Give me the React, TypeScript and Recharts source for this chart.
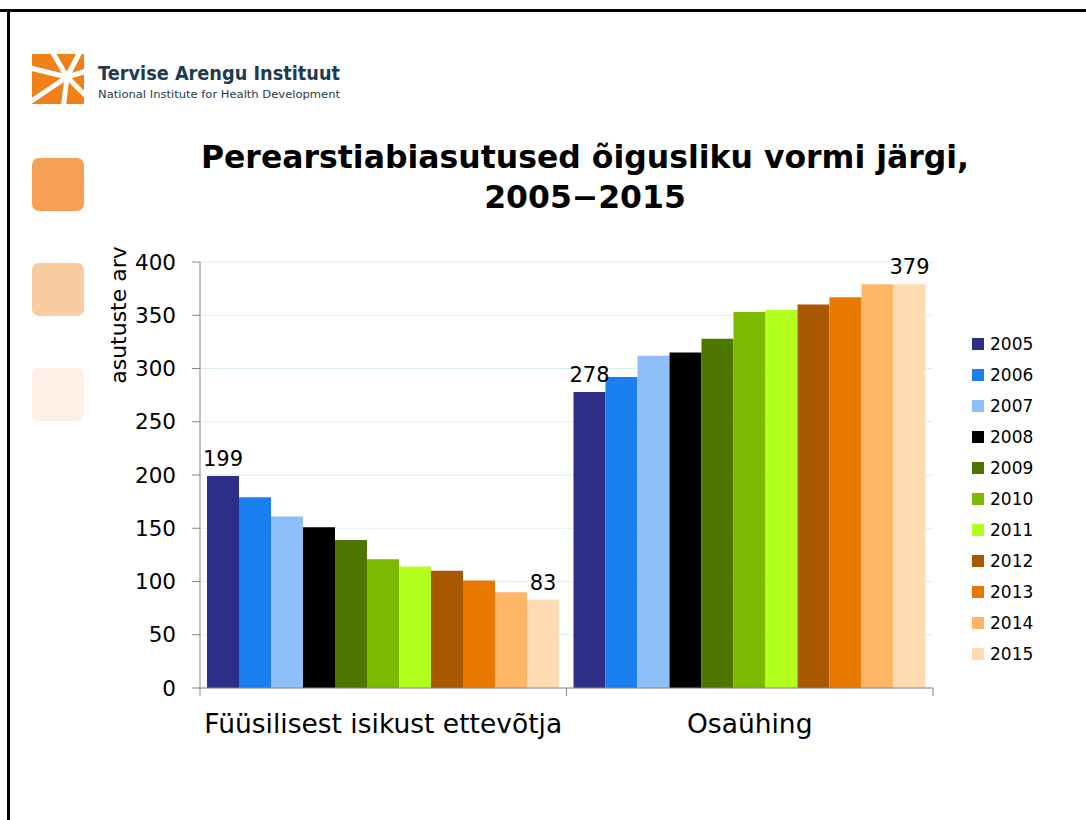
import React from 'react';
import { BarChart, Bar, XAxis, YAxis, CartesianGrid, Legend, LabelList } from 'recharts';

// Andmed
const categories = ['Füüsilisest isikust ettevõtja', 'Osaühing'];
const years = ['2005', '2006', '2007', '2008', '2009', '2010', '2011', '2012', '2013', '2014', '2015'];
const fieValues = [199, 179, 161, 151, 139, 121, 114, 110, 101, 90, 83];
const ouValues = [278, 292, 312, 315, 328, 353, 355, 360, 367, 379, 379];
const yTicks = [0, 50, 100, 150, 200, 250, 300, 350, 400];

const COLORS = ['#2E2D88', '#1A80F0', '#8FBFF8', '#000000', '#4E7700', '#7DB900', '#B3FF1F', '#A85800', '#E87800', '#FFB566', '#FFDAB3'];

const W = 1086;
const H = 820;
const MARGIN = { top: 262, right: 153, bottom: 92, left: 140 };
const Y_AXIS_W = 60;
const X_AXIS_H = 40;
const FONT = "'DejaVu Sans', sans-serif";

const seriesByCategory = [fieValues, ouValues];
const data = categories.map((category, ci) => {
  const row: Record<string, string | number> = { category };
  years.forEach((y, yi) => {
    row['y' + y] = seriesByCategory[ci][yi];
  });
  return row;
});

const plotWidth = W - MARGIN.left - Y_AXIS_W - MARGIN.right;
const band = plotWidth / categories.length;

const CategoryTick = (props: any) => {
  const { x, y, payload, index } = props;
  const axisY = y - 8 - 18;
  const left = x - band / 2;
  const right = x + band / 2;
  return (
    <g>
      <line x1={left} x2={left} y1={axisY} y2={axisY + 8} stroke="#868686" />
      {index === categories.length - 1 && <line x1={right} x2={right} y1={axisY} y2={axisY + 8} stroke="#868686" />}
      <text x={x} y={y} dy="0.71em" textAnchor="middle" fontSize={26.5} fill="#000" fontFamily={FONT}>
        {payload.value}
      </text>
    </g>
  );
};

const YearLegend = () => (
  <div style={{ fontFamily: FONT, fontSize: 17, color: '#000' }}>
    {years.map((y, i) => (
      <div key={y} style={{ display: 'flex', alignItems: 'center', height: 31 }}>
        <span style={{ width: 12, height: 12, background: COLORS[i], display: 'inline-block', marginRight: 6 }} />
        <span>{y}</span>
      </div>
    ))}
  </div>
);

const Decorations = () => (
  <svg width={W} height={H} style={{ position: 'absolute', left: 0, top: 0, pointerEvents: 'none' }}>
    {/* slaidi raam */}
    <rect x={0} y={9} width={W} height={3} fill="#000" />
    <rect x={7} y={9} width={3} height={H} fill="#000" />

    {/* logo */}
    <rect x={32} y={54} width={52} height={50} fill="#F08018" />
    {[[30, 68], [50, 48], [82, 48], [90, 70], [88, 98], [63, 110], [30, 102]].map(([ex, ey], i) => (
      <line key={i} x1={67} y1={77} x2={ex} y2={ey} stroke="#fff" strokeWidth={5} />
    ))}
    <circle cx={67} cy={77} r={5} fill="#fff" />
    <text x={98} y={80} fontFamily={FONT} fontWeight="bold" fontSize={19} fill="#1F3B4D" textLength={242} lengthAdjust="spacingAndGlyphs">
      Tervise Arengu Instituut
    </text>
    <text x={98} y={98} fontFamily={FONT} fontSize={11} fill="#1F3B4D" textLength={242} lengthAdjust="spacingAndGlyphs">
      National Institute for Health Development
    </text>

    {/* vasakpoolsed ruudud */}
    <rect x={32} y={158} width={52} height={53} rx={7} fill="#F5A055" />
    <rect x={32} y={263} width={52} height={53} rx={7} fill="#F8CCA0" />
    <rect x={32} y={368} width={52} height={53} rx={7} fill="#FDF0E6" />

    {/* pealkiri */}
    <text x={585} y={168} textAnchor="middle" fontFamily={FONT} fontWeight="bold" fontSize={31.5} fill="#000">
      Perearstiabiasutused õigusliku vormi järgi,
    </text>
    <text x={585} y={208} textAnchor="middle" fontFamily={FONT} fontWeight="bold" fontSize={31.5} fill="#000">
      2005−2015
    </text>

    {/* y-telje nimi */}
    <text transform="translate(118,315) rotate(-90)" textAnchor="middle" dominantBaseline="central" fontFamily={FONT} fontSize={22} fill="#000">
      asutuste arv
    </text>
  </svg>
);

export default function App() {
  return (
    <div style={{ position: 'absolute', left: 0, top: 0, width: W, height: H, background: '#fff', fontFamily: FONT }}>
      <BarChart width={W} height={H} data={data} margin={MARGIN} barCategoryGap={7} barGap={0}>
        <CartesianGrid vertical={false} stroke="#DCEEEE" />
        <XAxis
          dataKey="category"
          height={X_AXIS_H}
          axisLine={{ stroke: '#868686' }}
          tickLine={false}
          tickSize={8}
          tickMargin={18}
          tick={<CategoryTick />}
          interval={0}
        />
        <YAxis
          width={Y_AXIS_W}
          domain={[0, 400]}
          ticks={yTicks}
          axisLine={{ stroke: '#868686' }}
          tickLine={{ stroke: '#868686' }}
          tickSize={8}
          tickMargin={16}
          tick={{ fontSize: 21.5, fill: '#000', fontFamily: FONT }}
        />
        <Legend
          layout="horizontal"
          verticalAlign="middle"
          align="center"
          content={<YearLegend />}
          wrapperStyle={{ left: 972, top: 328, width: 100 }}
        />
        {years.map((y, i) => (
          <Bar key={y} dataKey={'y' + y} name={y} fill={COLORS[i]} isAnimationActive={false}>
            {(i === 0 || i === years.length - 1) && (
              <LabelList dataKey={'y' + y} position="top" offset={10} fill="#000" fontSize={21} fontFamily={FONT} />
            )}
          </Bar>
        ))}
      </BarChart>
      <Decorations />
    </div>
  );
}
